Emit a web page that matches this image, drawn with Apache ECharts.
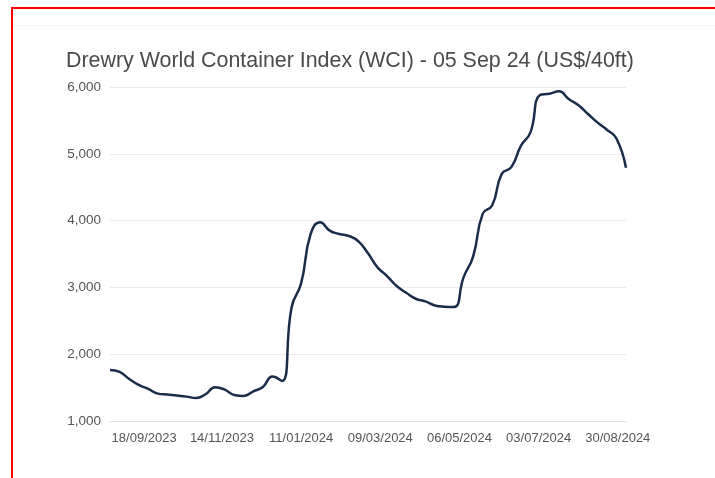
<!DOCTYPE html>
<html>
<head>
<meta charset="utf-8">
<script src="https://cdn.jsdelivr.net/npm/echarts@6/dist/echarts.min.js"></script>
<style>
    html, body { margin: 0; padding: 0; background: #fff; }
    #frame { position: absolute; left: 11px; top: 7px; right: 0; bottom: 0;
             border-top: 2px solid #f00; border-left: 2px solid #f00; }
    #rule { position: absolute; left: 13px; right: 0; top: 25px; height: 1px; background: #f2f2f2; }
    #wci { position: absolute; left: 0; top: 0; width: 715px; height: 478px; }
</style>
</head>
<body>
<div id="frame"></div>
<div id="rule"></div>
<div id="wci"></div>
<script>
// weekly WCI composite
var weeks = [
    '2023-08-24', '2023-08-31', '2023-09-07', '2023-09-14', '2023-09-21', '2023-09-28',
    '2023-10-05', '2023-10-12', '2023-10-19', '2023-10-26', '2023-11-02', '2023-11-09',
    '2023-11-16', '2023-11-23', '2023-11-30', '2023-12-07', '2023-12-14', '2023-12-21',
    '2023-12-28', '2024-01-04', '2024-01-11', '2024-01-18', '2024-01-25', '2024-02-01',
    '2024-02-08', '2024-02-15', '2024-02-22', '2024-02-29', '2024-03-07', '2024-03-14',
    '2024-03-21', '2024-03-28', '2024-04-04', '2024-04-11', '2024-04-18', '2024-04-25',
    '2024-05-02', '2024-05-09', '2024-05-16', '2024-05-23', '2024-05-30', '2024-06-06',
    '2024-06-13', '2024-06-20', '2024-06-27', '2024-07-04', '2024-07-11', '2024-07-18',
    '2024-07-25', '2024-08-01', '2024-08-08', '2024-08-15', '2024-08-22', '2024-08-29',
    '2024-09-05'
];
var wci = [
    1765, 1735, 1630, 1540, 1480, 1410,
    1395, 1380, 1365, 1345, 1400, 1505,
    1470, 1390, 1375, 1445, 1510, 1665,
    1600, 2700, 3060, 3800, 3975, 3850,
    3800, 3770, 3690, 3510, 3300, 3170,
    3020, 2920, 2830, 2790, 2730, 2710,
    2705, 3150, 3460, 4100, 4230, 4700,
    4800, 5120, 5320, 5880, 5900, 5935,
    5820, 5730, 5600, 5470, 5360, 5230,
    4790
];
var xTicks = ['2023-09-18', '2023-11-14', '2024-01-11', '2024-03-09', '2024-05-06', '2024-07-03', '2024-08-30'];
var yTicks = [1000, 2000, 3000, 4000, 5000, 6000];

function toTime(s) {
    var p = s.split('-');
    return new Date(+p[0], +p[1] - 1, +p[2]).getTime();
}
function pad(n) { return n < 10 ? '0' + n : '' + n; }

var chart = echarts.init(document.getElementById('wci'), null, {renderer: 'canvas'});
var points = [];
for (var i = 0; i < weeks.length; i++) {
    points.push([toTime(weeks[i]), wci[i]]);
}

chart.setOption({
    animation: false,
    title: {
        text: 'Drewry World Container Index (WCI) - 05 Sep 24 (US$/40ft)',
        left: 61,
        top: 46,
        textStyle: {
            fontFamily: 'Liberation Sans',
            fontSize: 21.4,
            fontWeight: 'normal',
            color: '#4a4a4a'
        }
    },
    grid: {
        left: 110,
        right: 89,
        top: 87,
        bottom: 57
    },
    xAxis: {
        type: 'value',
        min: toTime(weeks[0]),
        max: toTime(weeks[weeks.length - 1]),
        axisLine: {lineStyle: {color: '#e4e4e4'}},
        axisTick: {show: false},
        splitLine: {show: false},
        axisLabel: {
            customValues: xTicks.map(toTime),
            margin: 11,
            color: '#555',
            fontFamily: 'Liberation Sans',
            fontSize: 13,
            formatter: function (v) {
                var d = new Date(v);
                return pad(d.getDate()) + '/' + pad(d.getMonth() + 1) + '/' + d.getFullYear();
            }
        }
    },
    yAxis: {
        type: 'value',
        min: yTicks[0],
        max: yTicks[yTicks.length - 1],
        interval: 1000,
        axisLine: {show: false},
        axisTick: {show: false},
        splitLine: {lineStyle: {color: '#ebebeb'}},
        axisLabel: {
            margin: 9,
            color: '#555',
            fontFamily: 'Liberation Sans',
            fontSize: 13.5,
            formatter: function (v) {
                return v.toLocaleString('en-US');
            }
        }
    },
    series: [{
        type: 'line',
        data: points,
        smooth: true,
        showSymbol: false,
        lineStyle: {color: '#1b2c4b', width: 2.5}
    }]
});
</script>
</body>
</html>
